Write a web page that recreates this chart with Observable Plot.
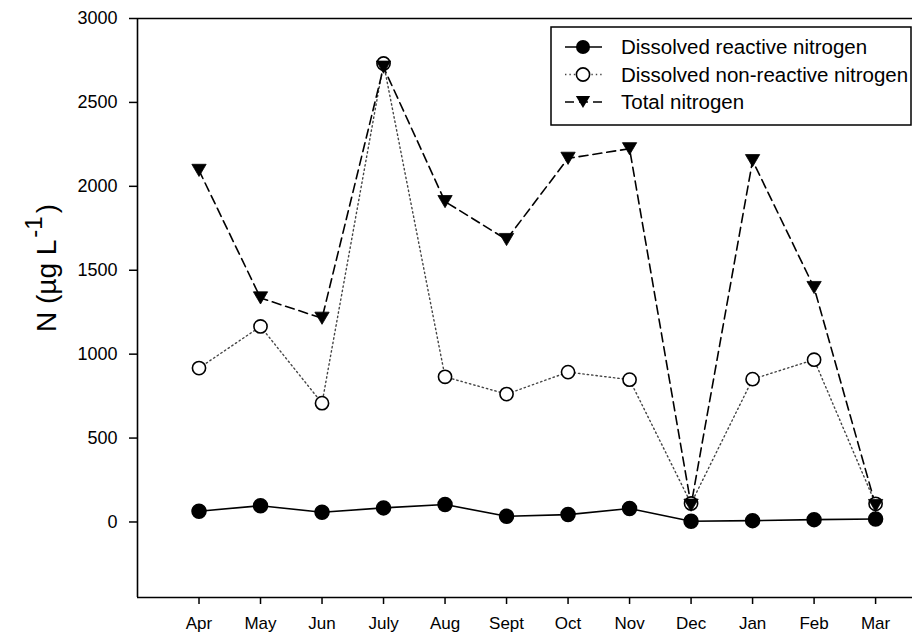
<!DOCTYPE html>
<html>
<head>
<meta charset="utf-8">
<script src="https://cdn.jsdelivr.net/npm/d3@7"></script>
<script src="https://cdn.jsdelivr.net/npm/@observablehq/plot@0.6"></script>
<style>
  body { margin: 0; background: #fff; }
  #chart { font-family: "Liberation Sans", Arial, sans-serif; }
</style>
</head>
<body>
<div id="chart"></div>
<script>
// Monthly nitrogen concentrations (µg L-1)
const months = ["Apr", "May", "Jun", "July", "Aug", "Sept", "Oct", "Nov", "Dec", "Jan", "Feb", "Mar"];
const reactive = [64, 97, 58, 84, 104, 34, 44, 80, 4, 8, 14, 18];
const nonReactive = [917, 1165, 708, 2732, 865, 762, 893, 848, 110, 851, 967, 108];
const total = [2095, 1335, 1214, 2710, 1909, 1683, 2167, 2224, 100, 2153, 1397, 98];
const seriesNames = ["Dissolved reactive nitrogen", "Dissolved non-reactive nitrogen", "Total nitrogen"];
const yTicks = [0, 500, 1000, 1500, 2000, 2500, 3000];
const yTitle = ["N (µg L", "-1", ")"];

const rows = vals => vals.map((v, i) => ({pos: i + 1, month: months[i], value: v}));
const reactiveRows = rows(reactive);
const nonReactiveRows = rows(nonReactive);
const totalRows = rows(total);

// Downward-pointing triangle centred on its bounding box
const triangleDown = {
  draw(context, size) {
    const r = Math.sqrt(size / Math.PI);
    const hw = 1.35 * r, hh = 1.15 * r;
    context.moveTo(-hw, -hh);
    context.lineTo(hw, -hh);
    context.lineTo(0, hh);
    context.closePath();
  }
};

const font = "Liberation Sans, Arial, sans-serif";
const triR = 5.3;

const chart = Plot.plot({
  width: 924,
  height: 635,
  marginLeft: 137,
  marginRight: 12,
  marginTop: 18,
  marginBottom: 38,
  style: {fontFamily: font, fontSize: "18px", background: "white", color: "black", overflow: "visible"},
  x: {domain: [0, 12.6]},
  y: {domain: [-450, 3000]},
  marks: [
    Plot.ruleY([3000], {stroke: "black", strokeWidth: 1.6}),
    Plot.ruleY([-450], {stroke: "black", strokeWidth: 1.6}),
    Plot.ruleX([0], {stroke: "black", strokeWidth: 1.6}),
    Plot.axisY({ticks: yTicks, tickFormat: d => String(d), tickSize: 8, tickPadding: 12, label: null, fontSize: 18, strokeWidth: 1.5}),
    Plot.axisX({ticks: d3.range(1, 13), tickFormat: d => months[d - 1], tickSize: 7, tickPadding: 12, label: null, fontSize: 17, strokeWidth: 1.5}),

    Plot.line(reactiveRows, {x: "pos", y: "value", stroke: "black", strokeWidth: 1.6}),
    Plot.line(nonReactiveRows, {x: "pos", y: "value", stroke: "#444", strokeWidth: 1.4, strokeDasharray: "1.4,3"}),
    Plot.line(totalRows, {x: "pos", y: "value", stroke: "black", strokeWidth: 1.6, strokeDasharray: "9,5"}),

    Plot.dot(reactiveRows, {x: "pos", y: "value", r: 7, fill: "black", stroke: "black"}),
    Plot.dot(nonReactiveRows, {x: "pos", y: "value", r: 6.6, fill: "white", stroke: "black", strokeWidth: 1.6}),
    Plot.dot(totalRows, {x: "pos", y: "value", r: triR, symbol: triangleDown, fill: "black", stroke: "black", strokeWidth: 0.8})
  ]
});

const svg = d3.select(chart);

// y-axis title with superscript exponent
const title = svg.append("text")
  .attr("transform", "translate(56,268) rotate(-90)")
  .attr("text-anchor", "middle")
  .attr("font-family", font)
  .attr("font-size", 28)
  .attr("fill", "black");
title.append("tspan").text(yTitle[0]);
title.append("tspan").attr("font-size", 24).attr("dy", -14).attr("dx", 2).text(yTitle[1]);
title.append("tspan").attr("dy", 14).attr("dx", 3).text(yTitle[2]);

// Legend box in the upper right of the plot area
const legend = svg.append("g")
  .attr("font-family", font)
  .attr("font-size", 20.5)
  .attr("text-anchor", "start");
legend.append("rect")
  .attr("x", 551).attr("y", 27).attr("width", 360).attr("height", 98)
  .attr("fill", "white").attr("stroke", "black").attr("stroke-width", 1.5);

const legendStyles = [
  {dash: null, stroke: "black", width: 1.6, marker: "filled"},
  {dash: "1.4,3", stroke: "#444", width: 1.4, marker: "open"},
  {dash: "9,5", stroke: "black", width: 1.6, marker: "triangle"}
];
seriesNames.forEach((name, i) => {
  const cy = 47 + i * 27.5;
  const s = legendStyles[i];
  const g = legend.append("g");
  g.append("line")
    .attr("x1", 565).attr("x2", 602).attr("y1", cy).attr("y2", cy)
    .attr("stroke", s.stroke).attr("stroke-width", s.width)
    .attr("stroke-dasharray", s.dash);
  if (s.marker === "filled") {
    g.append("circle").attr("cx", 583).attr("cy", cy).attr("r", 7).attr("fill", "black");
  } else if (s.marker === "open") {
    g.append("circle").attr("cx", 583).attr("cy", cy).attr("r", 6.6)
      .attr("fill", "white").attr("stroke", "black").attr("stroke-width", 1.6);
  } else {
    const p = d3.path();
    triangleDown.draw(p, Math.PI * triR * triR);
    g.append("path").attr("d", p.toString())
      .attr("transform", `translate(583,${cy})`).attr("fill", "black");
  }
  g.append("text").attr("x", 621).attr("y", cy).attr("dy", "0.35em").attr("text-anchor", "start").text(name);
});

document.getElementById("chart").append(chart);
</script>
</body>
</html>
